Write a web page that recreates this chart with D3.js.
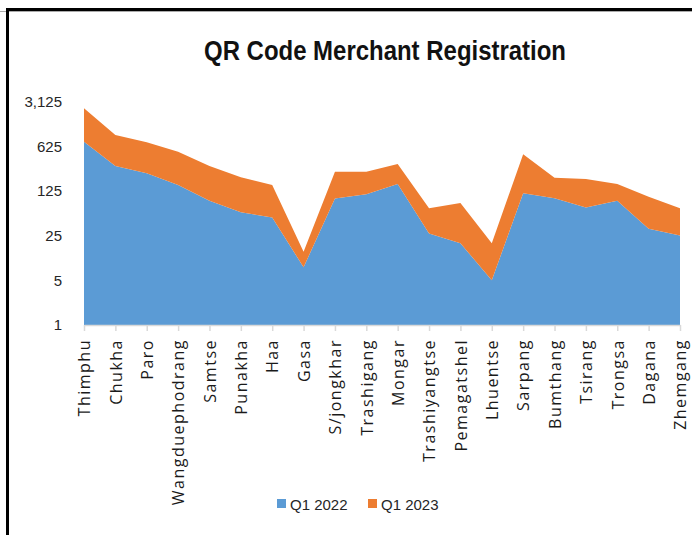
<!doctype html>
<html lang="en">
  <head>
    <meta charset="utf-8">
    <title>QR Code Merchant Registration</title>
    <script src="https://cdn.jsdelivr.net/npm/d3@7"></script>
    <style>
      body { margin: 0; background: #fff; }
      svg { display: block; }
    </style>
  </head>
  <body>
    <script>
      const categories = ["Thimphu", "Chukha", "Paro", "Wangduephodrang", "Samtse", "Punakha", "Haa", "Gasa",
        "S/jongkhar", "Trashigang", "Mongar", "Trashiyangtse", "Pemagatshel", "Lhuentse", "Sarpang",
        "Bumthang", "Tsirang", "Trongsa", "Dagana", "Zhemgang"];
      const q1_2022 = [735, 306, 236, 155, 88, 58, 48, 8, 95, 111, 160, 27, 19, 5, 115, 96, 69, 88, 32, 25];
      const q1_2023 = [1709, 629, 483, 358, 218, 146, 107, 6, 155, 139, 169, 40, 62, 14, 352, 105, 123, 72, 69, 42];
      const seriesNames = ["Q1 2022", "Q1 2023"];
      const colors = ["#5B9BD5", "#ED7D31"];
      const yTicks = [1, 5, 25, 125, 625, 3125];

      const w = 692;
      const h = 535;

      const rows = categories.map((c, i) => ({ name: c, "Q1 2022": q1_2022[i], "Q1 2023": q1_2023[i] }));
      const stacked = d3.stack().keys(seriesNames)(rows);

      const x = d3.scalePoint().domain(categories).range([84, 680]);
      const y = d3.scaleLog().base(5).domain([1, 3125]).range([325, 101.5]);

      const svg = d3.select("body").append("svg")
        .attr("width", w)
        .attr("height", h);

      // frame (only left and top edges show in the picture)
      svg.append("line").attr("x1", 0).attr("x2", w).attr("y1", 11.5).attr("y2", 11.5)
        .attr("stroke", "#aaa").attr("stroke-width", 1);
      svg.append("line").attr("x1", 7).attr("x2", w).attr("y1", 9.5).attr("y2", 9.5)
        .attr("stroke", "#000").attr("stroke-width", 3);
      svg.append("line").attr("x1", 7.5).attr("x2", 7.5).attr("y1", 8).attr("y2", h)
        .attr("stroke", "#000").attr("stroke-width", 3);

      svg.append("text")
        .attr("x", 385)
        .attr("y", 60)
        .attr("text-anchor", "middle")
        .attr("font-family", "'Liberation Sans', Arial, sans-serif")
        .attr("font-weight", "bold")
        .attr("font-size", 27)
        .attr("textLength", 362)
        .attr("lengthAdjust", "spacingAndGlyphs")
        .attr("fill", "#111")
        .text("QR Code Merchant Registration");

      const area = d3.area()
        .x((d, i) => x(categories[i]))
        .y0(d => y(Math.max(1, d[0])))
        .y1(d => y(d[1]));

      svg.selectAll("path.layer")
        .data(stacked)
        .enter()
        .append("path")
        .attr("class", "layer")
        .attr("d", area)
        .attr("fill", (d, i) => colors[i]);

      const yAxis = d3.axisLeft(y).tickValues(yTicks).tickFormat(d3.format(",")).tickSize(0).tickPadding(22);
      const gy = svg.append("g").attr("transform", "translate(84,0)").call(yAxis);
      gy.select(".domain").remove();
      gy.selectAll("text")
        .attr("font-family", "'Liberation Sans', Arial, sans-serif")
        .attr("font-size", 15)
        .attr("fill", "#262626");

      const xAxis = d3.axisBottom(x).tickSize(6).tickSizeOuter(0).tickPadding(0);
      const gx = svg.append("g").attr("transform", "translate(0,325)").call(xAxis);
      gx.select(".domain").attr("stroke", "#d9d9d9").attr("stroke-width", 1.5);
      gx.selectAll(".tick line").attr("stroke", "#d9d9d9").attr("stroke-width", 1.5);
      gx.selectAll("text")
        .attr("font-family", "'Open Sans', sans-serif")
        .attr("font-size", 16)
        .attr("letter-spacing", 1.5)
        .attr("fill", "#1a1a1a")
        .attr("text-anchor", "end")
        .attr("transform", "rotate(-90)")
        .attr("x", -14)
        .attr("y", 0)
        .attr("dy", "0.36em");

      const legend = svg.append("g");
      const legendX = [277, 368];
      seriesNames.forEach((s, i) => {
        legend.append("rect")
          .attr("x", legendX[i]).attr("y", 499)
          .attr("width", 9).attr("height", 9)
          .attr("fill", colors[i]);
        legend.append("text")
          .attr("x", legendX[i] + 13).attr("y", 510)
          .attr("font-family", "'Liberation Sans', Arial, sans-serif")
          .attr("font-size", 15)
          .attr("fill", "#262626")
          .text(s);
      });
    </script>
  </body>
</html>
